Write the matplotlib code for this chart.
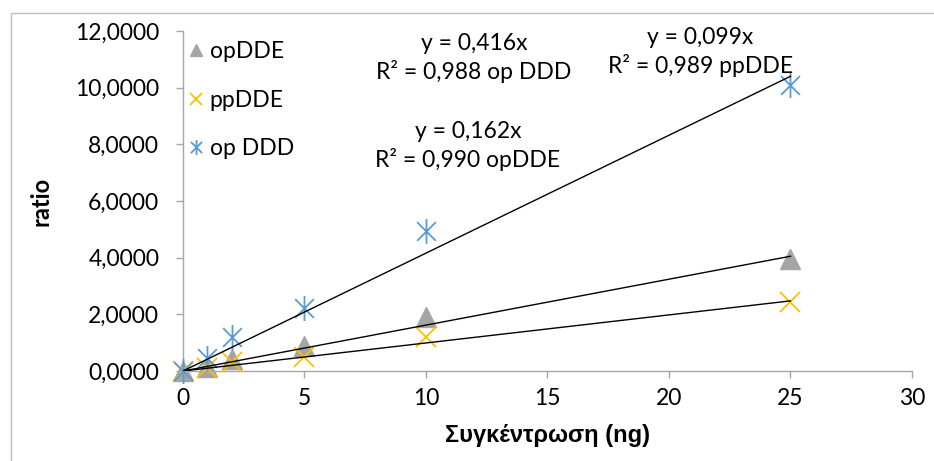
import numpy as np
import matplotlib
matplotlib.use("Agg")
import matplotlib.pyplot as plt
from matplotlib.path import Path
from matplotlib.patches import Rectangle
from matplotlib.ticker import FuncFormatter

plt.rcParams['font.family'] = ['Lato', 'Noto Sans', 'DejaVu Sans']

# concentration (ng) and measured ratios
conc = [0, 1, 2, 5, 10, 25]
op_dde = [0, 0.13, 0.44, 0.88, 1.91, 3.95]
pp_dde = [0, 0.09, 0.33, 0.50, 1.21, 2.45]
op_ddd = [0, 0.45, 1.21, 2.21, 4.95, 10.08]

# linear fits through the origin
slopes = {"opDDE": 0.162, "ppDDE": 0.099, "op DDD": 0.416}
r2 = {"opDDE": 0.990, "ppDDE": 0.989, "op DDD": 0.988}

grey = "#a5a5a5"
yellow = "#ffc000"
blue = "#5b9bd5"
axis_col = "#a6a6a6"

# asterisk: vertical bar plus an X
star = Path([(0, -1), (0, 1), (-0.75, -0.75), (0.75, 0.75), (-0.75, 0.75), (0.75, -0.75)],
            [Path.MOVETO, Path.LINETO, Path.MOVETO, Path.LINETO, Path.MOVETO, Path.LINETO])

fig = plt.figure(figsize=(9.34, 4.61), dpi=100)
ax = fig.add_axes([0.1959, 0.1952, 0.7805, 0.7376])

# chart frame
fig.patches.append(Rectangle((11 / 934, -0.2), 1.2, 1.2 - 13 / 461, transform=fig.transFigure,
                             fill=False, edgecolor="#bfbfbf", lw=1.0, clip_on=False))

ax.plot(conc, op_dde, ls='none', marker='^', ms=14, color=grey, mec=grey, label='opDDE', clip_on=False, zorder=3)
ax.plot(conc, pp_dde, ls='none', marker='x', ms=14, mew=1.3, color=yellow, label='ppDDE', clip_on=False, zorder=3)
ax.plot(conc, op_ddd, ls='none', marker=star, ms=18, mew=1.3, color=blue, label='op DDD', clip_on=False, zorder=3)

xfit = np.array([0, 25])
for name in ["opDDE", "ppDDE", "op DDD"]:
    ax.plot(xfit, slopes[name] * xfit, color='black', lw=1.0, zorder=4)

fs = 16.5
def eq_text(x, y, name):
    s = f"y = {slopes[name]:.3f}x\nR² = {r2[name]:.3f} {name}".replace('.', ',')
    ax.text(x, y, s, ha='center', va='center', fontsize=fs, linespacing=1.3)

eq_text(11.98, 11.05, "op DDD")
eq_text(21.28, 11.25, "ppDDE")
eq_text(11.73, 7.94, "opDDE")

ax.set_xlim(0, 30)
ax.set_ylim(0, 12)
ax.set_xticks(range(0, 31, 5))
ax.set_yticks(np.arange(0, 12.1, 2))
ax.yaxis.set_major_formatter(FuncFormatter(lambda v, p: f"{v:.4f}".replace('.', ',')))

for side in ['top', 'right']:
    ax.spines[side].set_visible(False)
for side in ['left', 'bottom']:
    ax.spines[side].set_color(axis_col)
    ax.spines[side].set_linewidth(1.0)
ax.tick_params(axis='both', direction='out', length=5, width=1.0, color=axis_col, labelsize=fs)
ax.tick_params(axis='y', pad=12)
ax.tick_params(axis='x', pad=7)

ax.set_xlabel("Συγκέντρωση (ng)", fontsize=17, fontweight='bold', family='Liberation Sans', labelpad=11)
ax.set_ylabel("ratio", fontsize=17, fontweight='bold', labelpad=16)

ax.legend(loc='upper left', bbox_to_anchor=(-0.02, 1.03), frameon=False, fontsize=fs,
          markerscale=0.6, handlelength=0.6, handletextpad=0.3, labelspacing=1.2)

fig.savefig("out.png", dpi=100)
